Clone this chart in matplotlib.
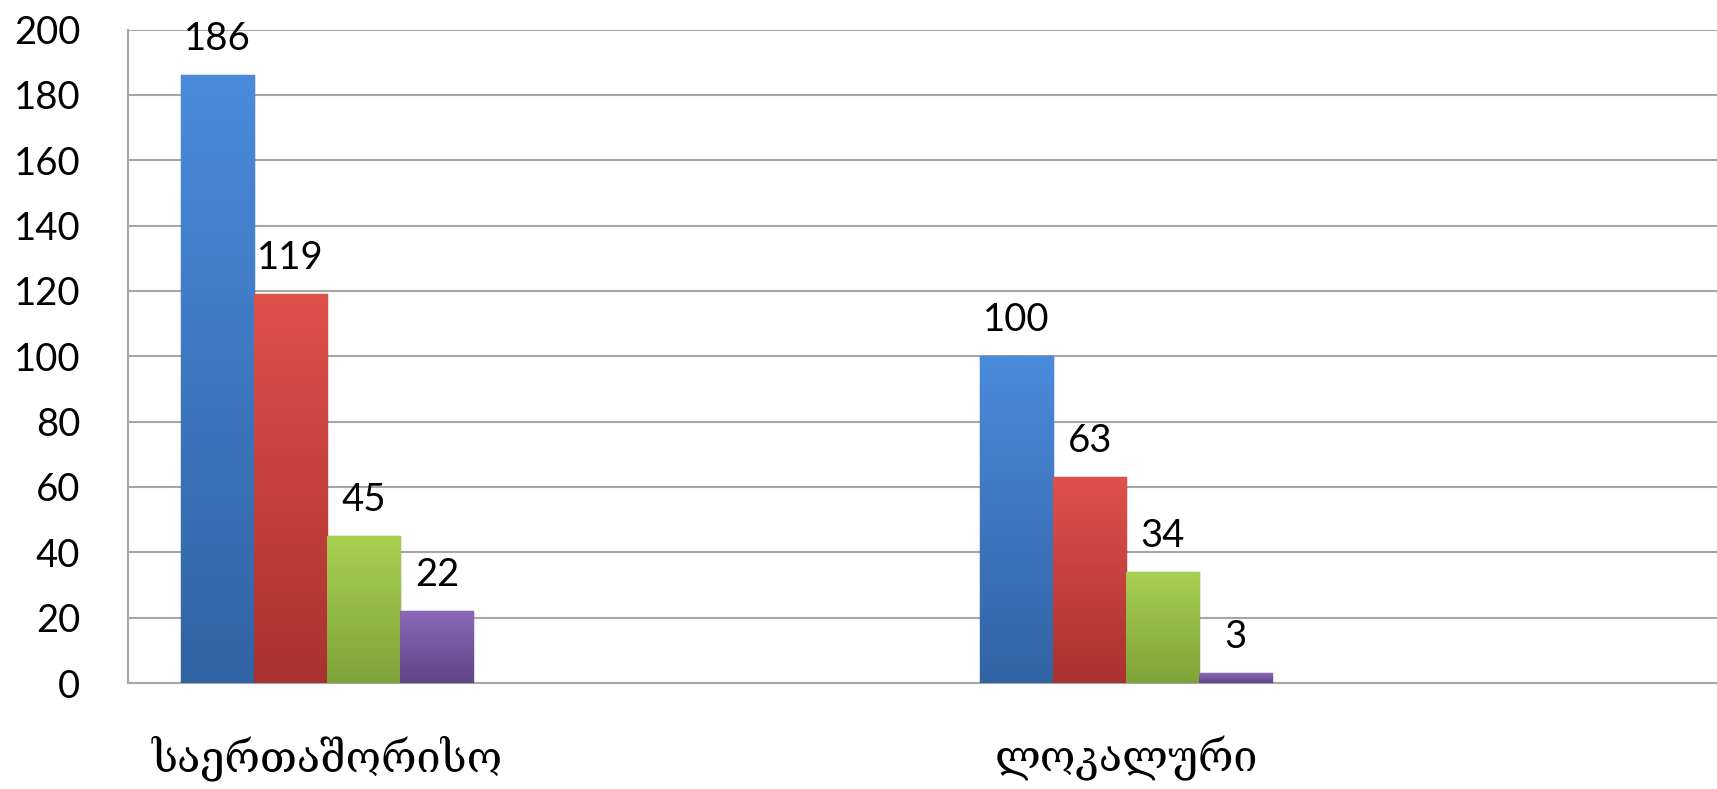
import matplotlib
matplotlib.use("Agg")
import matplotlib.pyplot as plt
import numpy as np
from matplotlib.colors import LinearSegmentedColormap

# ---- data ----
categories = ["საერთაშორისო", "ლოკალური"]
cat_positions = [0, 2]          # category slots (4 slots on the axis, two used)
series_values = [
    [186, 100],   # blue
    [119, 63],    # red
    [45, 34],     # green
    [22, 3],      # purple
]
y_ticks = [0, 20, 40, 60, 80, 100, 120, 140, 160, 180, 200]

# ---- styles ----
top_colors = ["#4A8BDC", "#E0504B", "#A8D050", "#8A68B8"]
bot_colors = ["#3263A3", "#A83230", "#7FA33A", "#5E4584"]
edge_colors = ["#2D5A94", "#9A2D2B", "#6F8F32", "#533C75"]

W, H = 1717, 789
fig = plt.figure(figsize=(W / 100, H / 100), dpi=100)
ax = fig.add_axes([127.5 / W, 1 - 683 / H, 1 - 127.5 / W, (683 - 29.5) / H])

bar_w = 0.183
n = len(series_values)
x = np.array(cat_positions, dtype=float)
num_font = ["Lato", "DejaVu Sans"]

for i, vals in enumerate(series_values):
    offs = (i - (n - 1) / 2) * bar_w
    bars = ax.bar(x + offs, vals, width=bar_w, color=top_colors[i],
                  edgecolor=edge_colors[i], linewidth=1.0, zorder=3)
    cmap = LinearSegmentedColormap.from_list(f"g{i}", [bot_colors[i], top_colors[i]])
    for b, v in zip(bars, vals):
        bx, bw, bh = b.get_x(), b.get_width(), b.get_height()
        grad = np.linspace(0, 1, 256).reshape(-1, 1)
        im = ax.imshow(grad, extent=[bx, bx + bw, 0, bh], origin="lower",
                       cmap=cmap, aspect="auto", zorder=3.5)
        im.set_clip_path(b)
        ax.annotate(str(v), (bx + bw / 2, bh), xytext=(0, 13),
                    textcoords="offset points", ha="center", va="bottom",
                    fontsize=27.5, family=num_font, color="black", zorder=5)

ax.set_xlim(-0.5, 3.479)
ax.set_ylim(0, 200)
ax.set_yticks(y_ticks)
ax.set_yticklabels([str(t) for t in y_ticks], fontsize=27.5, family=num_font)
ax.tick_params(axis="y", length=0, pad=34)
ax.set_xticks(cat_positions)
ax.set_xticklabels(categories, fontsize=31, family=["DejaVu Serif", "DejaVu Sans"])
ax.tick_params(axis="x", length=0, pad=38)

ax.grid(axis="y", color="#A6A6A6", linewidth=1.5, zorder=0)
ax.set_axisbelow(True)
for s in ["top", "right"]:
    ax.spines[s].set_visible(False)
ax.spines["left"].set_color("#A6A6A6")
ax.spines["bottom"].set_color("#A6A6A6")
ax.spines["left"].set_linewidth(1.5)
ax.spines["bottom"].set_linewidth(1.5)

fig.savefig("out.png", dpi=100)
